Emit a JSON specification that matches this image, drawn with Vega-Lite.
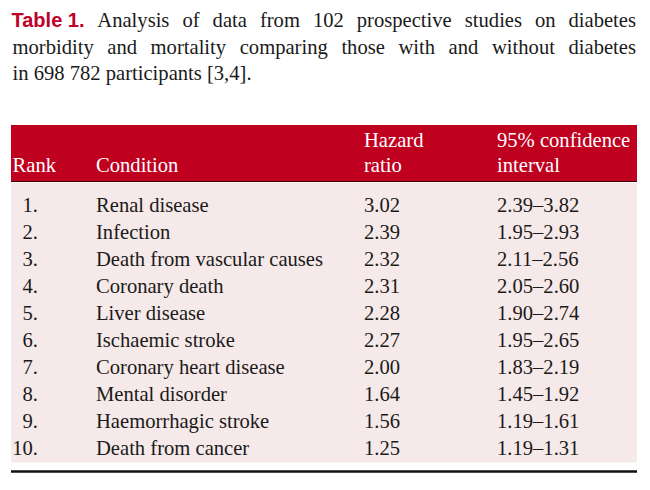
{
  "$schema": "https://vega.github.io/schema/vega-lite/v6.json",
  "width": 626,
  "height": 490,
  "autosize": "none",
  "padding": {"left": 11, "top": 0, "right": 13, "bottom": 0},
  "background": "white",
  "config": {
    "view": {"stroke": null},
    "axis": {"disable": true},
    "text": {"font": "Liberation Serif", "fontSize": 20.6, "baseline": "alphabetic", "align": "left", "color": "#1a1a1a"}
  },
  "data": {
    "values": [
      {"rank": 1, "no": "1.", "condition": "Renal disease", "hr": 3.02, "ci": "2.39–3.82"},
      {"rank": 2, "no": "2.", "condition": "Infection", "hr": 2.39, "ci": "1.95–2.93"},
      {"rank": 3, "no": "3.", "condition": "Death from vascular causes", "hr": 2.32, "ci": "2.11–2.56"},
      {"rank": 4, "no": "4.", "condition": "Coronary death", "hr": 2.31, "ci": "2.05–2.60"},
      {"rank": 5, "no": "5.", "condition": "Liver disease", "hr": 2.28, "ci": "1.90–2.74"},
      {"rank": 6, "no": "6.", "condition": "Ischaemic stroke", "hr": 2.27, "ci": "1.95–2.65"},
      {"rank": 7, "no": "7.", "condition": "Coronary heart disease", "hr": 2.00, "ci": "1.83–2.19"},
      {"rank": 8, "no": "8.", "condition": "Mental disorder", "hr": 1.64, "ci": "1.45–1.92"},
      {"rank": 9, "no": "9.", "condition": "Haemorrhagic stroke", "hr": 1.56, "ci": "1.19–1.61"},
      {"rank": 10, "no": "10.", "condition": "Death from cancer", "hr": 1.25, "ci": "1.19–1.31"}
    ]
  },
  "layer": [
    {
      "data": {"values": [{}]},
      "mark": {"type": "rect", "color": "#c0001f"},
      "encoding": {
        "x": {"datum": 0, "type": "quantitative", "scale": {"domain": [0, 626], "nice": false, "zero": false}},
        "x2": {"datum": 626},
        "y": {"datum": -2.2148, "type": "quantitative", "scale": {"domain": [-6.8444, 11.3037], "reverse": true, "nice": false, "zero": false}},
        "y2": {"datum": -0.1037}
      }
    },
    {
      "data": {"values": [{}]},
      "mark": {"type": "rule", "color": "#3d0008", "strokeWidth": 1},
      "encoding": {"x": {"datum": 0}, "x2": {"datum": 626}, "y": {"datum": -0.122}}
    },
    {
      "data": {"values": [{}]},
      "mark": {"type": "rect", "color": "#f6e9e9"},
      "encoding": {"x": {"datum": 0}, "x2": {"datum": 626}, "y": {"datum": -0.085}, "y2": {"datum": 10.2852}}
    },
    {
      "data": {"values": [{}]},
      "mark": {"type": "rule", "color": "#111111", "strokeWidth": 2.5},
      "encoding": {"x": {"datum": 0}, "x2": {"datum": 626}, "y": {"datum": 10.6185}}
    },
    {
      "data": {"values": [{}]},
      "mark": {"type": "text", "font": "Liberation Sans", "fontWeight": "bold", "fontSize": 20, "color": "#c0002a"},
      "encoding": {"x": {"datum": 0.5}, "y": {"datum": -5.8259}, "text": {"value": "Table 1."}}
    },
    {"data": {"values": [{}]}, "mark": "text", "encoding": {"x": {"datum": 86.3}, "y": {"datum": -5.8259}, "text": {"value": "Analysis"}}},
    {"data": {"values": [{}]}, "mark": "text", "encoding": {"x": {"datum": 171.4}, "y": {"datum": -5.8259}, "text": {"value": "of"}}},
    {"data": {"values": [{}]}, "mark": "text", "encoding": {"x": {"datum": 201.6}, "y": {"datum": -5.8259}, "text": {"value": "data"}}},
    {"data": {"values": [{}]}, "mark": "text", "encoding": {"x": {"datum": 248.9}, "y": {"datum": -5.8259}, "text": {"value": "from"}}},
    {"data": {"values": [{}]}, "mark": "text", "encoding": {"x": {"datum": 301.9}, "y": {"datum": -5.8259}, "text": {"value": "102"}}},
    {"data": {"values": [{}]}, "mark": "text", "encoding": {"x": {"datum": 345.8}, "y": {"datum": -5.8259}, "text": {"value": "prospective"}}},
    {"data": {"values": [{}]}, "mark": "text", "encoding": {"x": {"datum": 453.8}, "y": {"datum": -5.8259}, "text": {"value": "studies"}}},
    {"data": {"values": [{}]}, "mark": "text", "encoding": {"x": {"datum": 524.0}, "y": {"datum": -5.8259}, "text": {"value": "on"}}},
    {"data": {"values": [{}]}, "mark": {"type": "text", "align": "right"}, "encoding": {"x": {"datum": 625}, "y": {"datum": -5.8259}, "text": {"value": "diabetes"}}},
    {"data": {"values": [{}]}, "mark": "text", "encoding": {"x": {"datum": 1.5}, "y": {"datum": -4.837}, "text": {"value": "morbidity"}}},
    {"data": {"values": [{}]}, "mark": "text", "encoding": {"x": {"datum": 96.3}, "y": {"datum": -4.837}, "text": {"value": "and"}}},
    {"data": {"values": [{}]}, "mark": "text", "encoding": {"x": {"datum": 139.6}, "y": {"datum": -4.837}, "text": {"value": "mortality"}}},
    {"data": {"values": [{}]}, "mark": "text", "encoding": {"x": {"datum": 228.7}, "y": {"datum": -4.837}, "text": {"value": "comparing"}}},
    {"data": {"values": [{}]}, "mark": "text", "encoding": {"x": {"datum": 330.4}, "y": {"datum": -4.837}, "text": {"value": "those"}}},
    {"data": {"values": [{}]}, "mark": "text", "encoding": {"x": {"datum": 387.5}, "y": {"datum": -4.837}, "text": {"value": "with"}}},
    {"data": {"values": [{}]}, "mark": "text", "encoding": {"x": {"datum": 437.6}, "y": {"datum": -4.837}, "text": {"value": "and"}}},
    {"data": {"values": [{}]}, "mark": "text", "encoding": {"x": {"datum": 481.0}, "y": {"datum": -4.837}, "text": {"value": "without"}}},
    {"data": {"values": [{}]}, "mark": {"type": "text", "align": "right"}, "encoding": {"x": {"datum": 625}, "y": {"datum": -4.837}, "text": {"value": "diabetes"}}},
    {"data": {"values": [{}]}, "mark": "text", "encoding": {"x": {"datum": 1.5}, "y": {"datum": -3.8704}, "text": {"value": "in 698 782 participants [3,4]."}}},
    {"data": {"values": [{}]}, "mark": {"type": "text", "color": "white"}, "encoding": {"x": {"datum": 1.5}, "y": {"datum": -0.4556}, "text": {"value": "Rank"}}},
    {"data": {"values": [{}]}, "mark": {"type": "text", "color": "white"}, "encoding": {"x": {"datum": 85}, "y": {"datum": -0.4556}, "text": {"value": "Condition"}}},
    {"data": {"values": [{}]}, "mark": {"type": "text", "color": "white"}, "encoding": {"x": {"datum": 353}, "y": {"datum": -1.4111}, "text": {"value": "Hazard"}}},
    {"data": {"values": [{}]}, "mark": {"type": "text", "color": "white"}, "encoding": {"x": {"datum": 353}, "y": {"datum": -0.4556}, "text": {"value": "ratio"}}},
    {"data": {"values": [{}]}, "mark": {"type": "text", "color": "white"}, "encoding": {"x": {"datum": 486}, "y": {"datum": -1.4111}, "text": {"value": "95% confidence"}}},
    {"data": {"values": [{}]}, "mark": {"type": "text", "color": "white"}, "encoding": {"x": {"datum": 486}, "y": {"datum": -0.4556}, "text": {"value": "interval"}}},
    {
      "mark": {"type": "text", "align": "right"},
      "encoding": {"x": {"datum": 27}, "y": {"field": "rank", "type": "quantitative"}, "text": {"field": "no"}}
    },
    {
      "mark": "text",
      "encoding": {"x": {"datum": 85}, "y": {"field": "rank", "type": "quantitative"}, "text": {"field": "condition"}}
    },
    {
      "mark": "text",
      "encoding": {"x": {"datum": 353}, "y": {"field": "rank", "type": "quantitative"}, "text": {"field": "hr", "type": "quantitative", "format": ".2f"}}
    },
    {
      "mark": "text",
      "encoding": {"x": {"datum": 486}, "y": {"field": "rank", "type": "quantitative"}, "text": {"field": "ci"}}
    }
  ]
}
